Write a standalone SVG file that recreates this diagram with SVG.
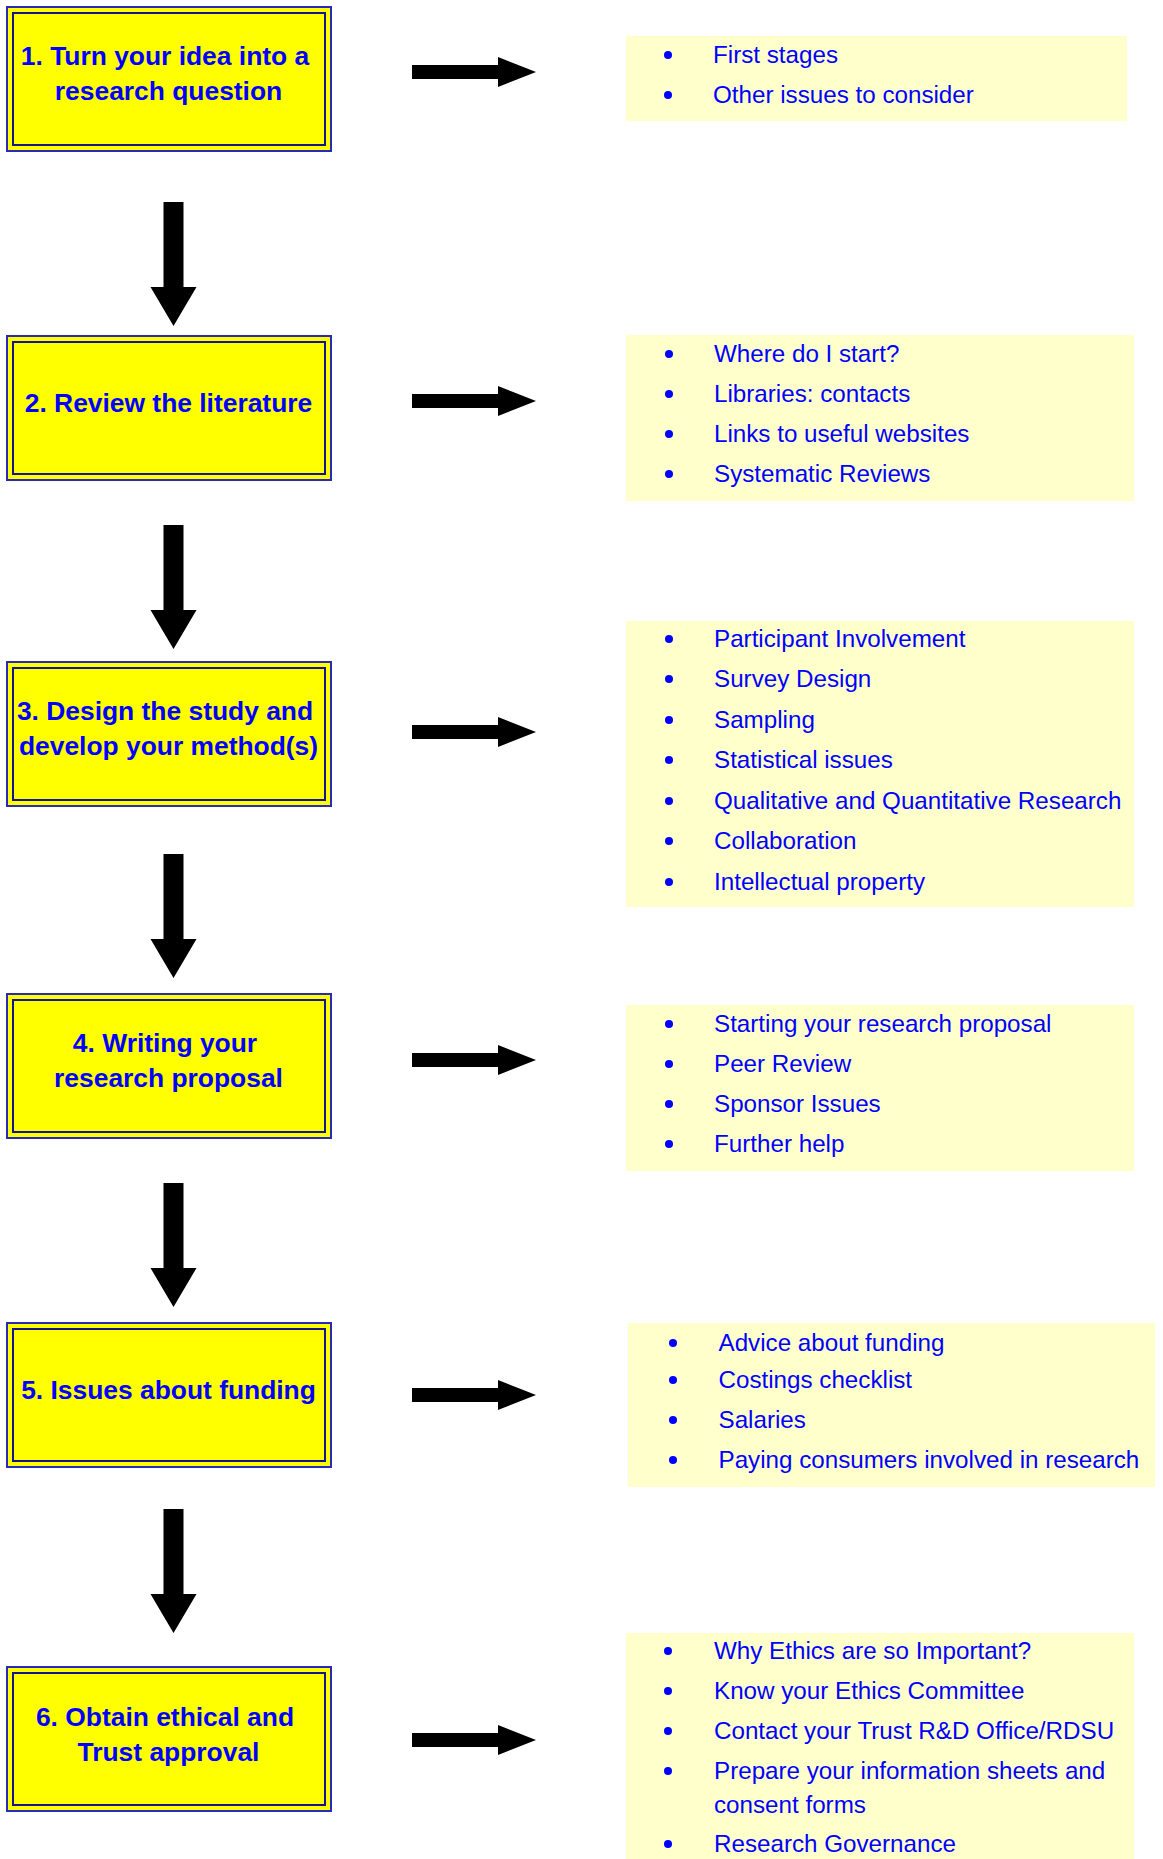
<svg xmlns="http://www.w3.org/2000/svg" xmlns:xlink="http://www.w3.org/1999/xlink" width="1163" height="1859" viewBox="0 0 1163 1859">
<style>
.outer{fill:#FFFF00;stroke:#2a2ab8;stroke-width:2}
.inner{fill:none;stroke:#14148c;stroke-width:2}
.step{font-family:"Liberation Sans",Arial,sans-serif;font-weight:bold;font-size:26.4px;fill:#0000FF;text-anchor:middle}
.panel{fill:#FFFFCC}
.item{font-family:"Liberation Sans",Arial,sans-serif;font-size:24.2px;fill:#0000FF}
.dot{fill:#0000FF}
.arrow{fill:#000000}
</style>
<defs>
<path id="arrR" d="M0,-7 H86 V-15 L124,0 L86,15 V7 H0 Z"/>
<path id="arrD" d="M-10,0 H10 V85 H23 L0,124 L-23,85 H-10 Z"/>
</defs>
<rect width="1163" height="1859" fill="#FFFFFF"/>

<g id="step1">
<rect class="outer" x="7" y="7" width="324" height="144"/>
<rect class="inner" x="13" y="13" width="312" height="132"/>
<text class="step" x="165" y="65">1. Turn your idea into a</text>
<text class="step" x="168.5" y="100">research question</text>
</g>
<g id="step2">
<rect class="outer" x="7" y="336" width="324" height="144"/>
<rect class="inner" x="13" y="342" width="312" height="132"/>
<text class="step" x="168.5" y="412">2. Review the literature</text>
</g>
<g id="step3">
<rect class="outer" x="7" y="662" width="324" height="144"/>
<rect class="inner" x="13" y="668" width="312" height="132"/>
<text class="step" x="165" y="720">3. Design the study and</text>
<text class="step" x="168.5" y="755">develop your method(s)</text>
</g>
<g id="step4">
<rect class="outer" x="7" y="994" width="324" height="144"/>
<rect class="inner" x="13" y="1000" width="312" height="132"/>
<text class="step" x="165" y="1052">4. Writing your</text>
<text class="step" x="168.5" y="1087">research proposal</text>
</g>
<g id="step5">
<rect class="outer" x="7" y="1323" width="324" height="144"/>
<rect class="inner" x="13" y="1329" width="312" height="132"/>
<text class="step" x="168.5" y="1399">5. Issues about funding</text>
</g>
<g id="step6">
<rect class="outer" x="7" y="1667" width="324" height="144"/>
<rect class="inner" x="13" y="1673" width="312" height="132"/>
<text class="step" x="165" y="1726">6. Obtain ethical and</text>
<text class="step" x="168.5" y="1761">Trust approval</text>
</g>

<g id="list1">
<rect class="panel" x="626" y="36" width="501" height="85"/>
<circle class="dot" cx="668" cy="55" r="4"/>
<circle class="dot" cx="668" cy="95" r="4"/>
<text class="item" x="713" y="63">First stages</text>
<text class="item" x="713" y="103">Other issues to consider</text>
</g>
<g id="list2">
<rect class="panel" x="626" y="335" width="508" height="166"/>
<circle class="dot" cx="669" cy="354" r="4"/>
<circle class="dot" cx="669" cy="394" r="4"/>
<circle class="dot" cx="669" cy="434" r="4"/>
<circle class="dot" cx="669" cy="474" r="4"/>
<text class="item" x="714" y="362">Where do I start?</text>
<text class="item" x="714" y="402">Libraries: contacts</text>
<text class="item" x="714" y="442">Links to useful websites</text>
<text class="item" x="714" y="482">Systematic Reviews</text>
</g>
<g id="list3">
<rect class="panel" x="626" y="621" width="508" height="286"/>
<circle class="dot" cx="669" cy="639" r="4"/>
<circle class="dot" cx="669" cy="679" r="4"/>
<circle class="dot" cx="669" cy="720" r="4"/>
<circle class="dot" cx="669" cy="760" r="4"/>
<circle class="dot" cx="669" cy="801" r="4"/>
<circle class="dot" cx="669" cy="841" r="4"/>
<circle class="dot" cx="669" cy="882" r="4"/>
<text class="item" x="714" y="647">Participant Involvement</text>
<text class="item" x="714" y="687">Survey Design</text>
<text class="item" x="714" y="728">Sampling</text>
<text class="item" x="714" y="768">Statistical issues</text>
<text class="item" x="714" y="809">Qualitative and Quantitative Research</text>
<text class="item" x="714" y="849">Collaboration</text>
<text class="item" x="714" y="890">Intellectual property</text>
</g>
<g id="list4">
<rect class="panel" x="626" y="1005" width="508" height="166"/>
<circle class="dot" cx="669" cy="1024" r="4"/>
<circle class="dot" cx="669" cy="1064" r="4"/>
<circle class="dot" cx="669" cy="1104" r="4"/>
<circle class="dot" cx="669" cy="1144" r="4"/>
<text class="item" x="714" y="1032">Starting your research proposal</text>
<text class="item" x="714" y="1072">Peer Review</text>
<text class="item" x="714" y="1112">Sponsor Issues</text>
<text class="item" x="714" y="1152">Further help</text>
</g>
<g id="list5">
<rect class="panel" x="628" y="1323" width="527" height="164"/>
<circle class="dot" cx="673" cy="1343" r="4"/>
<circle class="dot" cx="673" cy="1380" r="4"/>
<circle class="dot" cx="673" cy="1420" r="4"/>
<circle class="dot" cx="673" cy="1460" r="4"/>
<text class="item" x="718.5" y="1351">Advice about funding</text>
<text class="item" x="718.5" y="1388">Costings checklist</text>
<text class="item" x="718.5" y="1428">Salaries</text>
<text class="item" x="718.5" y="1468">Paying consumers involved in research</text>
</g>
<g id="list6">
<rect class="panel" x="626" y="1633" width="508" height="226"/>
<circle class="dot" cx="668" cy="1651" r="4"/>
<circle class="dot" cx="668" cy="1691" r="4"/>
<circle class="dot" cx="668" cy="1731" r="4"/>
<circle class="dot" cx="668" cy="1771" r="4"/>
<circle class="dot" cx="668" cy="1844" r="4"/>
<text class="item" x="714" y="1659">Why Ethics are so Important?</text>
<text class="item" x="714" y="1699">Know your Ethics Committee</text>
<text class="item" x="714" y="1739">Contact your Trust R&amp;D Office/RDSU</text>
<text class="item" x="714" y="1779">Prepare your information sheets and</text>
<text class="item" x="714" y="1813">consent forms</text>
<text class="item" x="714" y="1852">Research Governance</text>
</g>

<g id="connectors" class="arrow">
<use xlink:href="#arrR" href="#arrR" x="412" y="72"/>
<use xlink:href="#arrR" href="#arrR" x="412" y="401"/>
<use xlink:href="#arrR" href="#arrR" x="412" y="732"/>
<use xlink:href="#arrR" href="#arrR" x="412" y="1060"/>
<use xlink:href="#arrR" href="#arrR" x="412" y="1395"/>
<use xlink:href="#arrR" href="#arrR" x="412" y="1740"/>
<use xlink:href="#arrD" href="#arrD" x="173.5" y="202"/>
<use xlink:href="#arrD" href="#arrD" x="173.5" y="525"/>
<use xlink:href="#arrD" href="#arrD" x="173.5" y="854"/>
<use xlink:href="#arrD" href="#arrD" x="173.5" y="1183"/>
<use xlink:href="#arrD" href="#arrD" x="173.5" y="1509"/>
</g>
</svg>
